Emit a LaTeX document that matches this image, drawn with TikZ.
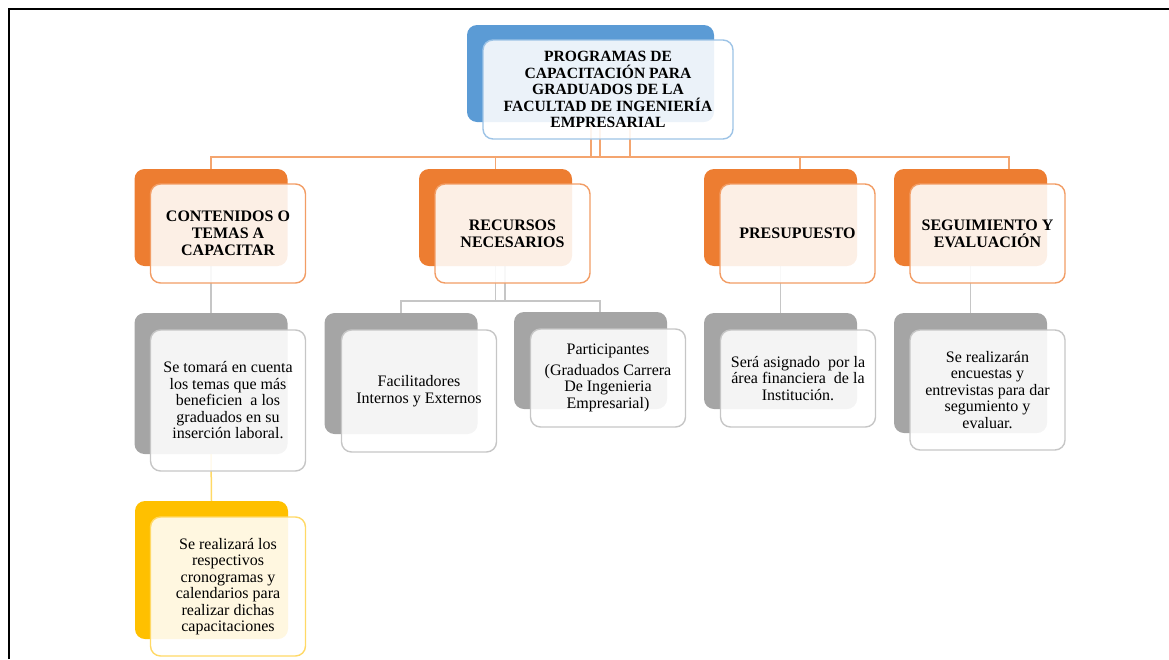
\documentclass[tikz,border=0pt]{standalone}
\usepackage{fontspec}
\setmainfont{Liberation Serif}
\usetikzlibrary{backgrounds}

\definecolor{azul}{HTML}{5B9BD5}
\definecolor{azulclaro}{HTML}{9DC3E6}
\definecolor{naranja}{HTML}{ED7D31}
\definecolor{naranjaclaro}{HTML}{F4A56F}
\definecolor{gris}{HTML}{A5A5A5}
\definecolor{grisclaro}{HTML}{C6C6C6}
\definecolor{amarillo}{HTML}{FFC000}
\definecolor{amarilloclaro}{HTML}{FFD966}

\tikzset{
	fondo/.style={rounded corners=10pt, fill=#1, inner sep=0pt, minimum width=153pt},
	frente/.style={rounded corners=10pt, draw=#1, line width=1.4pt, fill=white, fill opacity=0.88,
		text opacity=1, inner sep=2pt, minimum width=155pt, align=center,
		font=\fontsize{16}{16.5}\selectfont},
	titulo/.style={font=\bfseries\fontsize{16}{17}\selectfont},
	lnar/.style={draw=naranjaclaro, line width=1.5pt},
	lgris/.style={draw=grisclaro, line width=1.5pt},
	lamar/.style={draw=amarilloclaro, line width=1.5pt}
}

\begin{document}
\begin{tikzpicture}[x=1pt,y=-1pt]
  %marco
	\useasboundingbox (0,0) rectangle (1169,659);
	\draw[line width=2.4pt] (9,659) -- (9,9) -- (1169,9);

  %caja principal
	\node[fondo=azul, minimum width=247pt, minimum height=97pt] (topf) at (590.5,73.5) {};
	\node[frente=azulclaro, minimum width=250pt, minimum height=99pt, font=\bfseries\fontsize{15.6}{16.5}\selectfont] (top) at (608,89.5)
		{PROGRAMAS DE\\CAPACITACIÓN PARA\\GRADUADOS DE LA\\FACULTAD DE INGENIERÍA\\EMPRESARIAL};

  %primer nivel
	\node[fondo=naranja, minimum height=97pt] (b1f) at (211,217.5) {};
	\node[frente=naranja!75, minimum height=99pt, titulo] (b1) at ([shift={(17,16)}]b1f.center) {CONTENIDOS O\\TEMAS A\\CAPACITAR};
	\node[fondo=naranja, minimum height=97pt] (b2f) at (495.5,217.5) {};
	\node[frente=naranja!75, minimum height=99pt, titulo] (b2) at ([shift={(17,16)}]b2f.center) {RECURSOS\\NECESARIOS};
	\node[fondo=naranja, minimum height=97pt] (b3f) at (780.5,217.5) {};
	\node[frente=naranja!75, minimum height=99pt, titulo] (b3) at ([shift={(17,16)}]b3f.center) {PRESUPUESTO};
	\node[fondo=naranja, minimum height=97pt] (b4f) at (970.5,217.5) {};
	\node[frente=naranja!75, minimum height=99pt, titulo] (b4) at ([shift={(17,16)}]b4f.center) {SEGUIMIENTO Y\\EVALUACIÓN};

  %segundo nivel
	\node[fondo=gris, minimum height=141pt] (h1f) at (211,383.5) {};
	\node[frente=grisclaro, minimum height=141pt] (h1) at ([shift={(17,17)}]h1f.center)
		{Se tomará en cuenta\\los temas que más\\beneficien\ \ a los\\graduados en su\\inserción laboral.};
	\node[fondo=gris, minimum height=121pt] (h2af) at (401,373.5) {};
	\node[frente=grisclaro, minimum height=122pt] (h2a) at ([shift={(18,17.5)}]h2af.center) {Facilitadores\\Internos y Externos};
	\node[fondo=gris, minimum height=97pt] (h2bf) at (590.5,360.5) {};
	\node[frente=grisclaro, minimum height=98pt] (h2b) at ([shift={(17.5,17.5)}]h2bf.center)
		{Participantes\\[4pt](Graduados Carrera\\De Ingenieria\\Empresarial)};
	\node[fondo=gris, minimum height=96pt] (h3f) at (780.5,361) {};
	\node[frente=grisclaro, minimum height=97pt] (h3) at ([shift={(17.5,17.5)}]h3f.center)
		{Será asignado\ \ por la\\área financiera\ \ de la\\Institución.};
	\node[fondo=gris, minimum height=120pt] (h4f) at (970.5,373) {};
	\node[frente=grisclaro, minimum height=120pt] (h4) at ([shift={(17,17)}]h4f.center)
		{Se realizarán\\encuestas y\\entrevistas para dar\\segumiento y\\evaluar.};

  %tercer nivel
	\node[fondo=amarillo, minimum height=138pt] (h5f) at (211.5,570) {};
	\node[frente=amarilloclaro, minimum height=139pt] (h5) at ([shift={(16.5,16.5)}]h5f.center)
		{Se realizará los\\respectivos\\cronogramas y\\calendarios para\\realizar dichas\\capacitaciones};

  %conectores
	\begin{pgfonlayer}{background}
	\coordinate (bus) at (0,157);
	\coordinate (bus2) at (0,301);
	\foreach \xx in {591,600,630}
		\draw[lnar] (\xx,0 |- topf.south) -- (\xx,0 |- bus);
	\draw[lnar] (b1f.north) |- (1009,0 |- bus) -- (1009,0 |- b4f.north);
	\draw[lnar] (b2f.north) -- (b2f.north |- bus);
	\draw[lnar] (800,0 |- b3f.north) -- (800,0 |- bus);

	\draw[lgris] (b1f.south) -- (h1f.north);
	\draw[lgris] (b2f.south) -- (b2f.south |- bus2);
	\draw[lgris] (505,0 |- b2f.south) -- (505,0 |- bus2);
	\draw[lgris] (h2af.north) |- (600,0 |- bus2) -- (600,0 |- h2bf.north);
	\draw[lgris] (b3f.south) -- (h3f.north);
	\draw[lgris] (b4f.south) -- (h4f.north);

	\draw[lamar] (h1f.south) -- (h5f.north);
	\end{pgfonlayer}
\end{tikzpicture}
\end{document}
